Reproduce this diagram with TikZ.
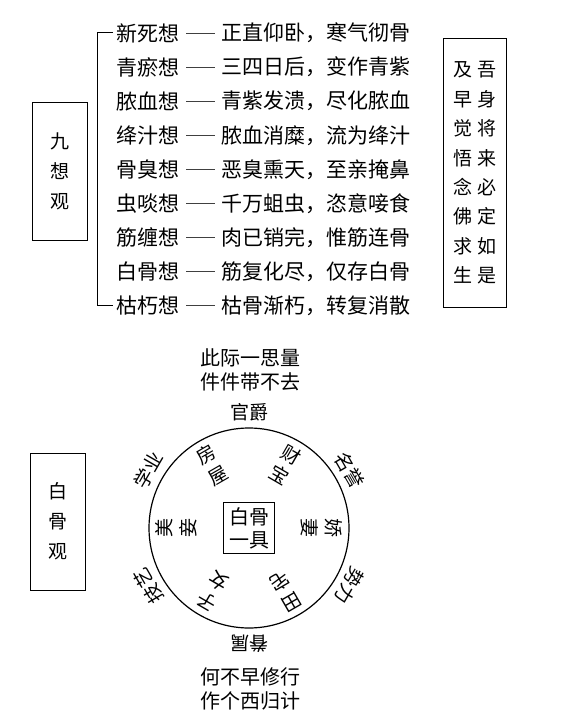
\documentclass[tikz,border=0pt]{standalone}
\usepackage{fontspec}
\setmainfont{Noto Sans CJK SC}
\usetikzlibrary{positioning}
\tikzset{
  rowtxt/.style={font=\fontsize{21}{24}\selectfont, inner sep=3pt},
  linkline/.style={black!75, line width=0.8pt, shorten <=3pt, shorten >=3pt},
  sidebox/.style={draw, line width=1pt, align=center, font=\fontsize{19}{30}\selectfont,
    minimum width=55pt, minimum height=137pt, inner sep=0pt},
  ringtxt/.style={font=\fontsize{19}{24}\selectfont, inner sep=1pt, align=center},
}
\begin{document}
\begin{tikzpicture}[x=1pt, y=1pt, line width=1pt]
\useasboundingbox (0,0) rectangle (567,-727);
\def\rr{100}
% nine thoughts
\node[sidebox] (jiu) at (59.5,-171.5) {九\\想\\观};
\foreach \nm/\ds [count=\i from 0] in {新死想/正直仰卧，寒气彻骨, 青瘀想/三四日后，变作青紫,
  脓血想/青紫发溃，尽化脓血, 绛汁想/脓血消糜，流为绛汁, 骨臭想/恶臭熏天，至亲掩鼻,
  虫啖想/千万蛆虫，恣意唼食, 筋缠想/肉已销完，惟筋连骨, 白骨想/筋复化尽，仅存白骨,
  枯朽想/枯骨渐朽，转复消散}{
  \node[rowtxt, anchor=west] (n\i) at (113,{-33-34.1*\i}) {\nm};
  \node[rowtxt, anchor=west] (d\i) at (218,{-33-34.1*\i}) {\ds};
  \draw[linkline] (n\i) -- (d\i);
}
\draw (n0.west) -- ++(-16,0) |- (n8.west);
% verse box
\node[sidebox, minimum width=63pt, minimum height=268pt, font=\fontsize{19}{29.4}\selectfont]
  (wu) at (474.5,-173) {及\hspace{5pt}吾\\早\hspace{5pt}身\\觉\hspace{5pt}将\\悟\hspace{5pt}来\\
  念\hspace{5pt}必\\佛\hspace{5pt}定\\求\hspace{5pt}如\\生\hspace{5pt}是};
% white bones
\node[sidebox] (bai) at (57.5,-521.5) {白\\骨\\观};
\node[ringtxt, font=\fontsize{20}{24}\selectfont] (top) at (250,-370) {此际一思量\\件件带不去};
\node[ringtxt, font=\fontsize{20}{24}\selectfont] (bot) at (250,-689) {何不早修行\\作个西归计};
\begin{scope}[shift={(249,-528)}]
  \draw[line width=1.2pt] (0,0) circle (\rr);
  \node[draw, line width=1.2pt, minimum size=51pt, inner sep=0pt, align=center,
    font=\fontsize{20}{23}\selectfont] (bone) at (0,0) {白骨\\一具};
  \foreach \a/\w [count=\k] in {90/官爵, 30/名誉, -30/势力, -90/眷属, -150/技艺, 150/学业}
    \node[ringtxt, rotate=\a-90] (out\k) at (\a:116) {\w};
  \foreach \a/\w [count=\k] in {120/房\\屋, 60/财\\宝, 0/娇\\妻, -60/田\\宅, -120/子\\女, 180/美\\妾}
    \node[ringtxt, rotate=\a-90] (in\k) at (\a:73) {\w};
\end{scope}
\end{tikzpicture}
\end{document}
